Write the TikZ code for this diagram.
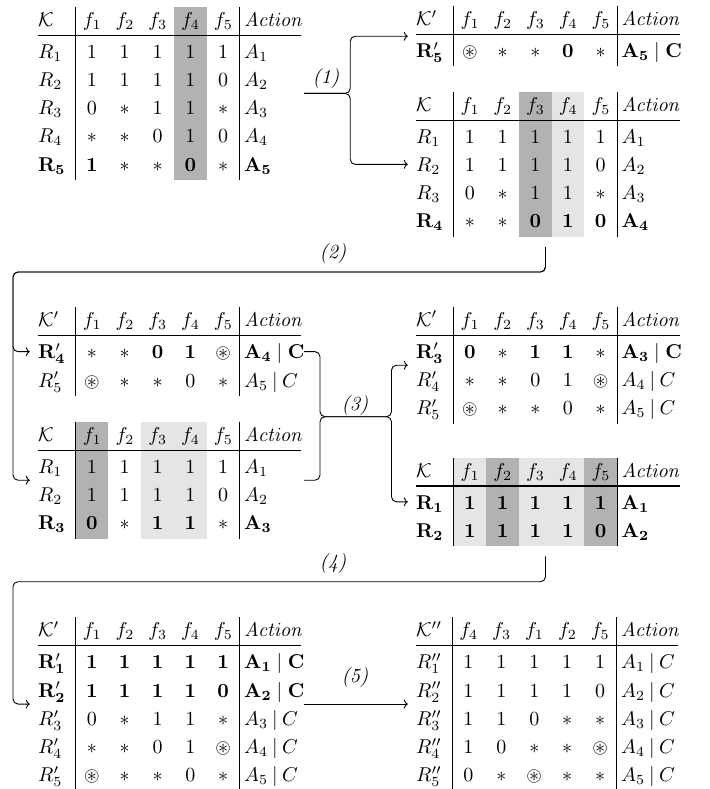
\documentclass[tikz,border=0pt]{standalone}
\usepackage{amssymb}
\usetikzlibrary{arrows.meta,fit}
% Computer Modern, scaled from its 10pt (and 7pt / 5pt) designs
\DeclareFontShape{OT1}{cmr}{m}{n}{<-12> cmr5 <12-16> cmr7 <16-> cmr10}{}
\DeclareFontShape{OT1}{cmr}{m}{it}{<-> cmti10}{}
\DeclareFontShape{OT1}{cmr}{bx}{n}{<-12> cmbx5 <12-16> cmbx7 <16-> cmbx10}{}
\DeclareFontShape{OML}{cmm}{m}{it}{<-12> cmmi5 <12-16> cmmi7 <16-> cmmi10}{}
\DeclareFontShape{OMS}{cmsy}{m}{n}{<-12> cmsy5 <12-16> cmsy7 <16-> cmsy10}{}
\DeclareFontShape{OMX}{cmex}{m}{n}{<-> cmex10}{}
\newcommand\cmit{\fontencoding{OT1}\fontfamily{cmr}\fontseries{m}\fontshape{it}\selectfont}
\newcommand\Act{\mbox{\cmit Action}}
% table geometry: name, left x, first rule x, second rule x, end x, top y
\newcommand\TSet[6]{\def\tname{#1}\def\tx{#2}\def\ta{#3}\def\tb{#4}\def\tend{#5}\def\ttop{#6}}
\newcommand\TBox[1]{%
  \pgfmathsetmacro\tbot{\ttop+60.5+28.25*(#1-1)}%
  \node[fit={(\tx-8,\ttop-10) (\tend+3,\tbot+10)}, inner sep=0pt] (\tname) {};}
\newcommand\TShade[2]{%
  \fill[#2] ({\ta+(\tb-\ta)/5*(#1-2)},\ttop) rectangle ({\ta+(\tb-\ta)/5*(#1-1)},\tbot);}
\newcommand\TLines{%
  \draw[vline] (\ta,\ttop) -- (\ta,\tbot);
  \draw[vline] (\tb,\ttop) -- (\tb,\tbot);
  \draw[hrule] (\tx,\ttop+28.5) -- (\tend,\ttop+28.5);}
\newcommand\TRow[2]{%
  \ifnum#1=0 \pgfmathsetmacro\ybase{\ttop+19.5}\else\pgfmathsetmacro\ybase{\ttop+51.5+28.25*(#1-1)}\fi
  \foreach \c [count=\i] in {#2}{%
    \ifnum\i=1 \node[cell,anchor=base west] (\tname-#1-\i) at (\tx,\ybase) {$\c$};%
    \else\ifnum\i=7 \node[cell,anchor=base west] (\tname-#1-\i) at (\tb+4.5,\ybase) {$\c$};%
    \else \node[cell,anchor=base] (\tname-#1-\i) at ({\ta+(\tb-\ta)/5*(\i-1.5)},\ybase) {$\c$};%
    \fi\fi}}
\newcommand\AC[1]{A_{#1}\mathbin{|}C}
\newcommand\BAC[1]{\mathbf{A_{#1}}\mid\mathbf{C}}
\begin{document}
\begin{tikzpicture}[x=1pt,y=-1pt,
  cell/.style={inner sep=0pt, font=\fontsize{20}{24}\selectfont},
  lab/.style={inner sep=0pt, font=\fontsize{20}{24}\cmit},
  vline/.style={line width=0.9pt},
  hrule/.style={line width=1.3pt},
  conn/.style={line width=0.9pt, rounded corners=5pt},
  arr/.style={conn, -{To[length=4pt,width=9pt]}},
  dark/.style={fill=black!30}, light/.style={fill=black!10}]
\useasboundingbox (0,0) rectangle (709,789);

% ---------- T1 ----------
\TSet{T1}{38}{75.5}{239.5}{301}{6.7}
\TBox{5}
\TShade{5}{dark}
\TLines
\TRow{0}{\mathcal{K}, f_1, f_2, f_3, f_4, f_5, \Act}
\TRow{1}{R_1, 1, 1, 1, 1, 1, A_1}
\TRow{2}{R_2, 1, 1, 1, 1, 0, A_2}
\TRow{3}{R_3, 0, *, 1, 1, *, A_3}
\TRow{4}{R_4, *, *, 0, 1, 0, A_4}
\TRow{5}{\mathbf{R_5}, \mathbf{1}, *, *, \mathbf{0}, *, \mathbf{A_5}}

% ---------- T2 ----------
\TSet{T2}{416}{453.5}{617}{680}{6}
\TBox{1}
\TLines
\TRow{0}{\mathcal{K}', f_1, f_2, f_3, f_4, f_5, \Act}
\TRow{1}{\mathbf{R'_5}, \circledast, *, *, \mathbf{0}, *, \BAC{5}}

% ---------- T3 ----------
\TSet{T3}{416}{453.5}{617}{680}{91.7}
\TBox{4}
\TShade{4}{dark}
\TShade{5}{light}
\TLines
\TRow{0}{\mathcal{K}, f_1, f_2, f_3, f_4, f_5, \Act}
\TRow{1}{R_1, 1, 1, 1, 1, 1, A_1}
\TRow{2}{R_2, 1, 1, 1, 1, 0, A_2}
\TRow{3}{R_3, 0, *, 1, 1, *, A_3}
\TRow{4}{\mathbf{R_4}, *, *, \mathbf{0}, \mathbf{1}, \mathbf{0}, \mathbf{A_4}}

% ---------- T4 ----------
\TSet{T4}{38}{75.5}{239.5}{301}{307.3}
\TBox{2}
\TLines
\TRow{0}{\mathcal{K}', f_1, f_2, f_3, f_4, f_5, \Act}
\TRow{1}{\mathbf{R'_4}, *, *, \mathbf{0}, \mathbf{1}, \circledast, \BAC{4}}
\TRow{2}{R'_5, \circledast, *, *, 0, *, \AC{5}}

% ---------- T5 ----------
\TSet{T5}{38}{75.5}{239.5}{301}{421.7}
\TBox{3}
\TShade{2}{dark}
\TShade{4}{light}
\TShade{5}{light}
\TLines
\TRow{0}{\mathcal{K}, f_1, f_2, f_3, f_4, f_5, \Act}
\TRow{1}{R_1, 1, 1, 1, 1, 1, A_1}
\TRow{2}{R_2, 1, 1, 1, 1, 0, A_2}
\TRow{3}{\mathbf{R_3}, \mathbf{0}, *, \mathbf{1}, \mathbf{1}, *, \mathbf{A_3}}

% ---------- T6 ----------
\TSet{T6}{416}{453.5}{617}{680}{306.7}
\TBox{3}
\TLines
\TRow{0}{\mathcal{K}', f_1, f_2, f_3, f_4, f_5, \Act}
\TRow{1}{\mathbf{R'_3}, \mathbf{0}, *, \mathbf{1}, \mathbf{1}, *, \BAC{3}}
\TRow{2}{R'_4, *, *, 0, 1, \circledast, \AC{4}}
\TRow{3}{R'_5, \circledast, *, *, 0, *, \AC{5}}

% ---------- T7 ----------
\TSet{T7}{416}{453.5}{617}{680}{457.5}
\TBox{2}
\TShade{2}{light}
\TShade{3}{dark}
\TShade{4}{light}
\TShade{5}{light}
\TShade{6}{dark}
\TLines
\TRow{0}{\mathcal{K}, f_1, f_2, f_3, f_4, f_5, \Act}
\TRow{1}{\mathbf{R_1}, \mathbf{1}, \mathbf{1}, \mathbf{1}, \mathbf{1}, \mathbf{1}, \mathbf{A_1}}
\TRow{2}{\mathbf{R_2}, \mathbf{1}, \mathbf{1}, \mathbf{1}, \mathbf{1}, \mathbf{0}, \mathbf{A_2}}

% ---------- T8 ----------
\TSet{T8}{38}{75.5}{239.5}{301}{617.3}
\TBox{5}
\TLines
\TRow{0}{\mathcal{K}', f_1, f_2, f_3, f_4, f_5, \Act}
\TRow{1}{\mathbf{R'_1}, \mathbf{1}, \mathbf{1}, \mathbf{1}, \mathbf{1}, \mathbf{1}, \BAC{1}}
\TRow{2}{\mathbf{R'_2}, \mathbf{1}, \mathbf{1}, \mathbf{1}, \mathbf{1}, \mathbf{0}, \BAC{2}}
\TRow{3}{R'_3, 0, *, 1, 1, *, \AC{3}}
\TRow{4}{R'_4, *, *, 0, 1, \circledast, \AC{4}}
\TRow{5}{R'_5, \circledast, *, *, 0, *, \AC{5}}

% ---------- T9 ----------
\TSet{T9}{416}{452}{616.5}{678}{617.3}
\TBox{5}
\TLines
\TRow{0}{\mathcal{K}'', f_4, f_3, f_1, f_2, f_5, \Act}
\TRow{1}{R''_1, 1, 1, 1, 1, 1, \AC{1}}
\TRow{2}{R''_2, 1, 1, 1, 1, 0, \AC{2}}
\TRow{3}{R''_3, 1, 1, 0, *, *, \AC{3}}
\TRow{4}{R''_4, 1, 0, *, *, \circledast, \AC{4}}
\TRow{5}{R''_5, 0, *, \circledast, *, *, \AC{5}}

% ---------- connectors ----------
\coordinate (b1) at ([xshift=46pt]T1.east);
\draw[arr] (T1.east) -- (b1) |- (T2.west);
\draw[arr] (T1.east) -- (b1) |- (T3.west);
\node[lab] (l1) at (326,79) {(1)};

\coordinate (c2) at (13,272);
\draw[arr] (T3.south) |- (c2) |- (T4.west);
\draw[arr] (T3.south) |- (c2) |- (T5.west);
\node[lab] (l2) at (333,253) {(2)};

\coordinate (j3) at (320,416.7);
\coordinate (b3) at (391.5,416.7);
\draw[arr] (T4.east) -| (j3) -- (b3) |- (T6.west);
\draw[arr] (T5.east) -| (j3) -- (b3) |- (T7.west);
\node[lab] (l3) at (355,405) {(3)};

\coordinate (c4) at (13,581.7);
\draw[arr] (T7.south) |- (c4) |- (T8.west);
\node[lab] (l4) at (333,563) {(4)};

\draw[arr] (T8.east) -- (T9.west);
\node[lab] (l5) at (355,677) {(5)};
\end{tikzpicture}
\end{document}
